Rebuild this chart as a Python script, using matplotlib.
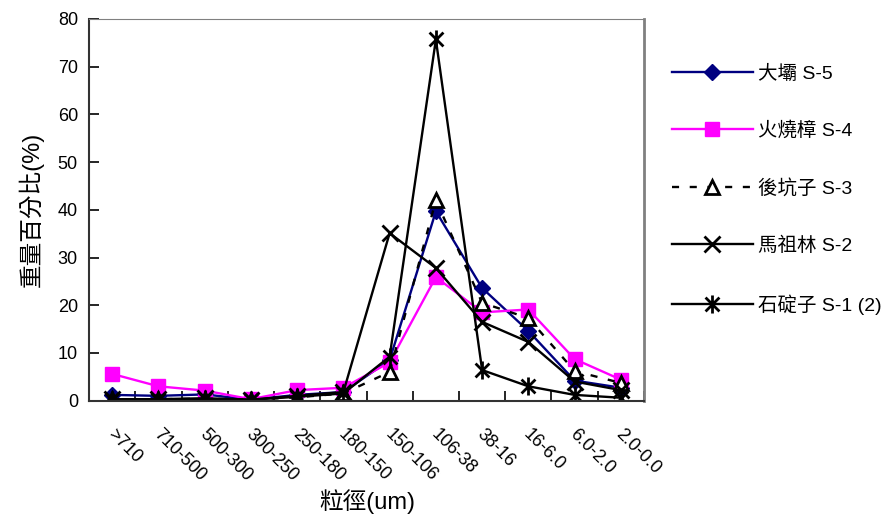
import numpy as np
import matplotlib
matplotlib.use('Agg')
import matplotlib.pyplot as plt
from matplotlib.path import Path

plt.rcParams['font.family'] = ['Liberation Sans', 'Noto Sans CJK TC']

categories = ['>710', '710-500', '500-300', '300-250', '250-180', '180-150',
              '150-106', '106-38', '38-16', '16-6.0', '6.0-2.0', '2.0-0.0']

s5 = [1.2, 1.0, 1.3, 0.2, 1.2, 1.8, 8.5, 39.7, 23.6, 14.6, 4.2, 2.7]
s4 = [5.6, 3.0, 2.1, 0.3, 2.2, 2.7, 8.0, 25.9, 18.5, 19.1, 8.7, 4.4]
s3 = [0.3, 0.3, 0.4, 0.2, 0.7, 1.5, 6.0, 42.0, 20.5, 17.3, 6.2, 3.7]
s2 = [0.3, 0.3, 0.5, 0.2, 1.0, 1.8, 35.1, 27.8, 16.5, 12.3, 4.0, 2.2]
s1 = [0.2, 0.2, 0.3, 0.2, 0.8, 1.5, 9.2, 75.7, 6.4, 3.0, 1.2, 0.6]

labels = ['大壩 S-5', '火燒樟 S-4', '後坑子 S-3', '馬祖林 S-2', '石碇子 S-1 (2)']

# Excel style star: an X with a vertical bar
star = Path([(-1, -1), (1, 1), (-1, 1), (1, -1), (0, -1.3), (0, 1.3)],
            [Path.MOVETO, Path.LINETO, Path.MOVETO, Path.LINETO, Path.MOVETO, Path.LINETO])

fig = plt.figure(figsize=(8.84, 5.23), dpi=100)
ax = fig.add_axes([0.1007, 0.234, 0.6278, 0.7297])

x = np.arange(len(categories))
lw = 1.7
ax.plot(x, s5, color='#000080', lw=lw, marker='D', ms=8, mfc='#000080', mec='#000080', label=labels[0])
ax.plot(x, s4, color='#ff00ff', lw=lw, marker='s', ms=10.5, mfc='#ff00ff', mec='#ff00ff', label=labels[1])
ax.plot(x, s3, color='black', lw=lw, dashes=(3, 4.5), marker='^', ms=10, mfc='white', mec='black',
        mew=2, label=labels[2])
ax.plot(x, s2, color='black', lw=lw, marker='x', ms=11, mec='black', mew=2, label=labels[3])
ax.plot(x, s1, color='black', lw=lw, marker=star, ms=13, mec='black', mew=2, label=labels[4])

ax.set_xlim(-0.5, len(categories) - 0.5)
ax.set_ylim(0, 80)
ax.set_yticks(np.arange(0, 81, 10))
ax.set_xticks(np.arange(len(categories) + 1) - 0.5)
ax.set_xticklabels([])
ax.tick_params(axis='both', direction='in', length=7, width=1.2, labelsize=13)
ax.tick_params(axis='y', pad=8)

for i, c in enumerate(categories):
    ax.text(i - 0.05, -6.5, c, rotation=-45, rotation_mode='anchor', ha='left', va='center',
            fontsize=13)

ax.spines['left'].set_color('#333333')
ax.spines['bottom'].set_color('#333333')
ax.spines['left'].set_linewidth(1.5)
ax.spines['bottom'].set_linewidth(1.5)
ax.spines['top'].set_color('#808080')
ax.spines['right'].set_color('#808080')
ax.spines['right'].set_linewidth(2)

ax.set_ylabel('重量百分比(%)', fontsize=17, labelpad=10)
fig.text(0.416, 0.04, '粒徑(um)', fontsize=17, ha='center', va='center')

handles, lbls = ax.get_legend_handles_labels()
fig.legend(handles, lbls, loc='upper left', bbox_to_anchor=(0.74, 0.91), frameon=False,
           fontsize=14, handlelength=4.2, labelspacing=2.0, handletextpad=0.25)

fig.savefig('out.png', dpi=100)
